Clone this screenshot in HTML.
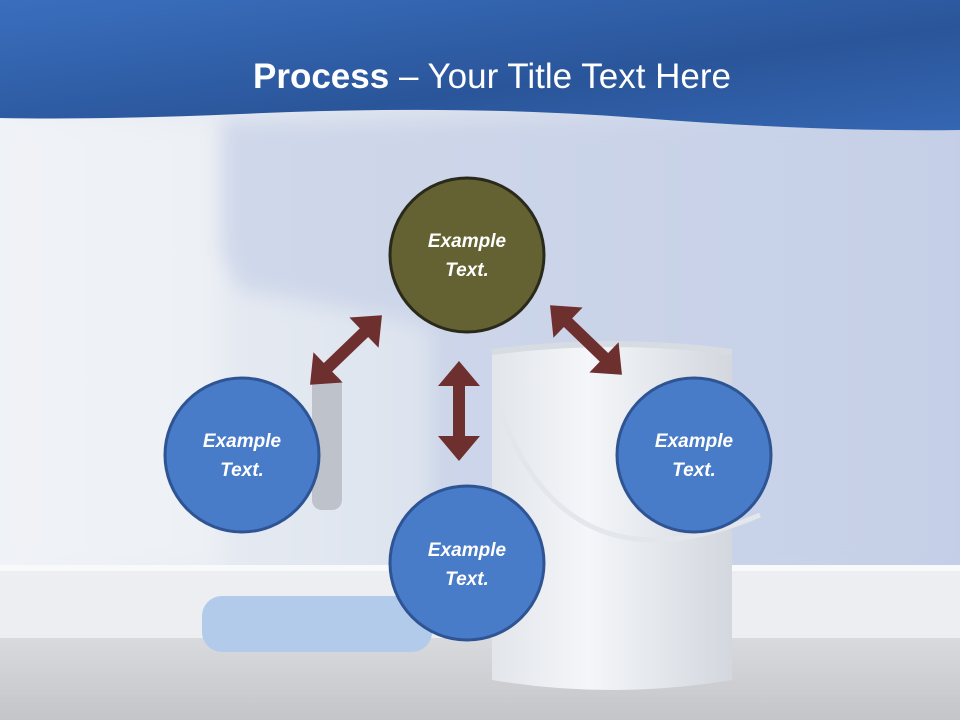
<!DOCTYPE html>
<html><head><meta charset="utf-8"><style>
html,body{margin:0;padding:0;width:960px;height:720px;overflow:hidden}
svg{display:block}
text{font-family:"Liberation Sans",sans-serif}
</style></head><body>
<svg width="960" height="720" viewBox="0 0 960 720" xmlns="http://www.w3.org/2000/svg">
<defs>
<linearGradient id="bg" x1="0" y1="0" x2="1" y2="0">
<stop offset="0" stop-color="#eef1f6"/><stop offset="0.4" stop-color="#dfe5ef"/><stop offset="1" stop-color="#c3cde6"/>
</linearGradient>
<linearGradient id="hd" x1="0" y1="0" x2="1" y2="1">
<stop offset="0" stop-color="#3a6fbe"/><stop offset="0.6" stop-color="#2a559a"/><stop offset="1" stop-color="#3566b2"/>
</linearGradient>
<linearGradient id="fl" x1="0" y1="0" x2="0" y2="1">
<stop offset="0" stop-color="#d9dadd"/><stop offset="1" stop-color="#c4c5c9"/>
</linearGradient>
<linearGradient id="can" x1="0" y1="0" x2="1" y2="0">
<stop offset="0" stop-color="#e2e5ea"/><stop offset="0.4" stop-color="#f4f6f9"/><stop offset="1" stop-color="#d3d7de"/>
</linearGradient>
<filter id="bl"><feGaussianBlur stdDeviation="10"/></filter>
</defs>
<rect width="960" height="720" fill="url(#bg)"/>
<g filter="url(#bl)">
<path d="M220 120 L960 120 L960 570 L430 570 L430 330 L400 320 L300 300 L240 290 L220 250 Z" fill="#c6d0e7" opacity="0.7"/>
<rect x="0" y="120" width="220" height="450" fill="#f1f3f7" opacity="0.6"/>
</g>
<rect x="0" y="565" width="960" height="75" fill="#eceef1"/>
<rect x="0" y="565" width="960" height="6" fill="#f8f9fa"/>
<rect x="0" y="638" width="960" height="82" fill="url(#fl)"/>
<rect x="202" y="596" width="230" height="56" rx="20" fill="#b3cbea"/>
<rect x="312" y="375" width="30" height="135" rx="10" fill="#a7abb2" opacity="0.6"/>
<path d="M492 352 Q612 336 732 352 L732 680 Q612 700 492 680 Z" fill="url(#can)"/>
<path d="M492 352 Q612 336 732 352" fill="none" stroke="#d7dbe2" stroke-width="6"/>
<path d="M495 395 Q560 600 760 515" fill="none" stroke="#e3e6eb" stroke-width="5"/>
<path d="M0 0 H960 V130 Q820 132 640 118 Q460 104 240 114 Q100 120 0 118 Z" fill="url(#hd)"/>
<text x="492" y="88" text-anchor="middle" fill="#fff" font-size="35"><tspan font-weight="bold">Process</tspan> – Your Title Text Here</text>
<g fill="#6e2f2f">
<polygon transform="translate(459,411) rotate(90)" points="-50,0 -25,-21 -25,-6 25,-6 25,-21 50,0 25,21 25,6 -25,6 -25,21"/>
<polygon transform="translate(346,350) rotate(-44)" points="-50,0 -25,-21 -25,-6 25,-6 25,-21 50,0 25,21 25,6 -25,6 -25,21"/>
<polygon transform="translate(586,340) rotate(44)" points="-50,0 -25,-21 -25,-6 25,-6 25,-21 50,0 25,21 25,6 -25,6 -25,21"/>
</g>
<circle cx="467" cy="255" r="77" fill="#646232" stroke="#2a2a1a" stroke-width="3"/>
<circle cx="242" cy="455" r="77" fill="#487bc8" stroke="#2e5494" stroke-width="3"/>
<circle cx="694" cy="455" r="77" fill="#487bc8" stroke="#2e5494" stroke-width="3"/>
<circle cx="467" cy="563" r="77" fill="#487bc8" stroke="#2e5494" stroke-width="3"/>
<g fill="#fff" font-size="19" font-weight="bold" font-style="italic" text-anchor="middle">
<text x="467" y="247">Example</text><text x="467" y="276">Text.</text>
<text x="242" y="447">Example</text><text x="242" y="476">Text.</text>
<text x="694" y="447">Example</text><text x="694" y="476">Text.</text>
<text x="467" y="556">Example</text><text x="467" y="585">Text.</text>
</g>
</svg>
</body></html>
